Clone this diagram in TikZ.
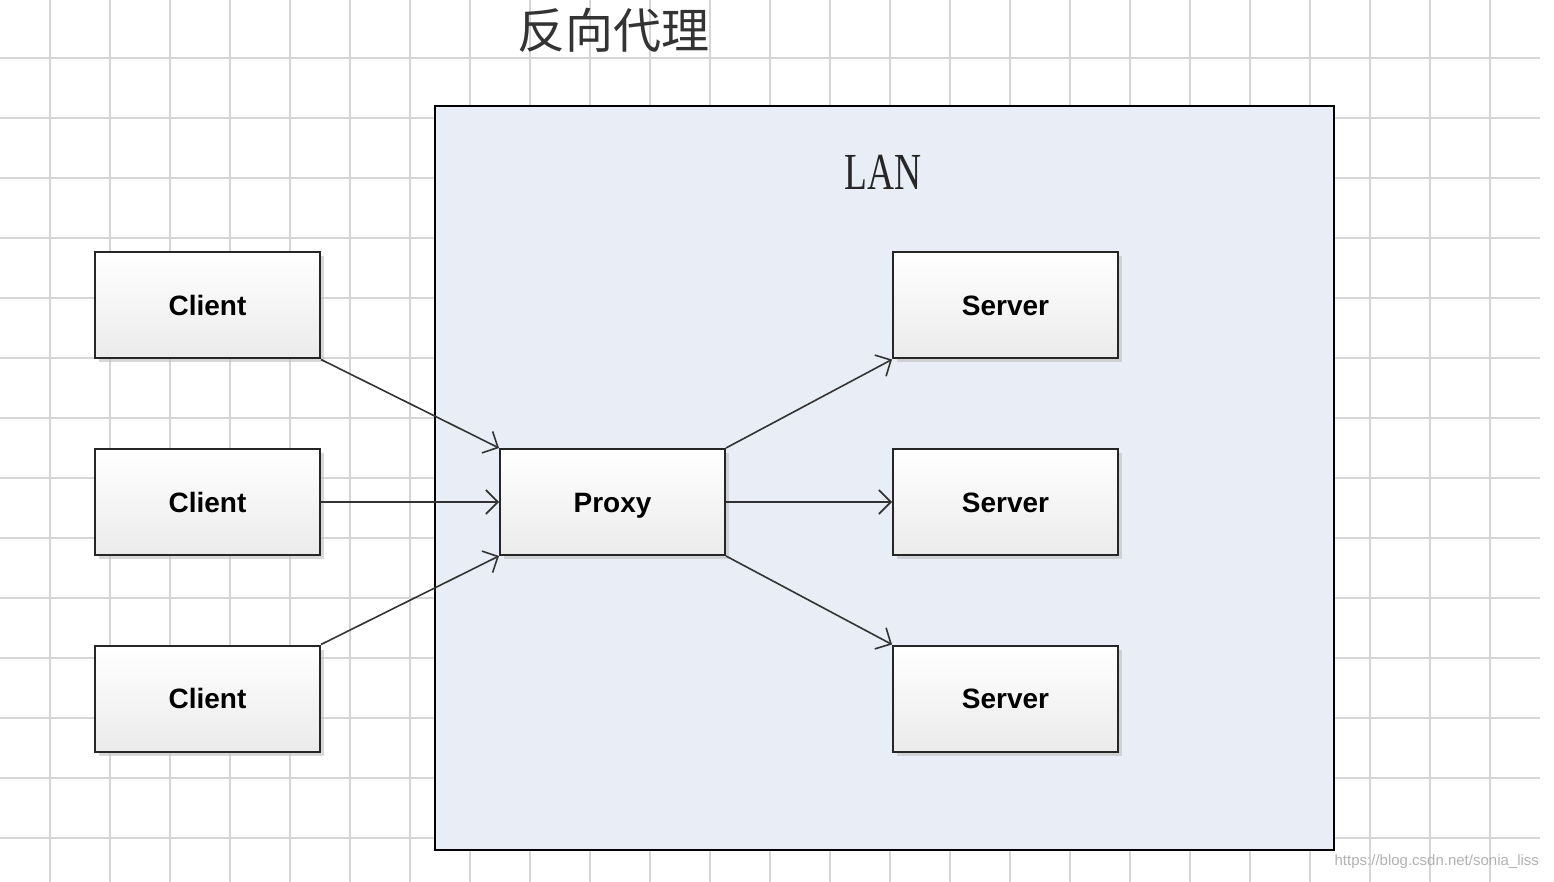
\documentclass[tikz,border=0pt]{standalone}
\usepackage{fontspec}
\setmainfont{Liberation Serif}
\setsansfont{Liberation Sans}
\newfontfamily\cjk{Noto Sans CJK SC}
\usetikzlibrary{arrows.meta,shadows}
\definecolor{lanfill}{HTML}{E9EDF5}
\definecolor{gridcol}{HTML}{D6D6D6}
\tikzset{
  gridline/.style={draw=gridcol, line width=0.9pt},
  boxnode/.style={draw=black!85, line width=1pt, minimum width=112.5pt, minimum height=53pt,
    top color=white, bottom color=black!8, inner sep=0pt, text height=10pt, text depth=0pt,
    font=\sffamily\bfseries\fontsize{14}{16}\selectfont,
    drop shadow={shadow xshift=2pt, shadow yshift=-2pt, fill=black!25, opacity=0.6}},
  conn/.style={draw=black!80, line width=0.8pt, -{Straight Barb[length=6pt,width=12pt,line width=0.8pt]}},
}
\begin{document}
\begin{tikzpicture}[x=0.5pt, y=-0.5pt]
\useasboundingbox (0,0) rectangle (1554,882);
\fill[white] (0,0) rectangle (1554,882);
% grid
\foreach \gx in {50,110,...,1490} \draw[gridline] (\gx,0) -- (\gx,882);
\foreach \gy in {58,118,...,838} \draw[gridline] (0,\gy) -- (1540,\gy);
% title
\node[font=\cjk\fontsize{24}{26}\selectfont, text=black!80] (title) at (613,30) {反向代理};
% LAN box
\node[draw=black, line width=1pt, fill=lanfill, minimum width=449.5pt, minimum height=372pt, inner sep=0pt] (lan) at (884.5,478) {};
\node[font=\rmfamily\fontsize{26}{28}\selectfont, text=black!85] (lanlabel) at (883,172) {\scalebox{0.72}[1]{LAN}};
% clients
\node[boxnode] (c1) at (207.5,305.5) {Client};
\node[boxnode] (c2) at (207.5,502) {Client};
\node[boxnode] (c3) at (207.5,698.5) {Client};
% proxy
\node[boxnode] (proxy) at (612.5,502) {Proxy};
% servers
\node[boxnode] (s1) at (1005.5,305.5) {Server};
\node[boxnode] (s2) at (1005.5,502) {Server};
\node[boxnode] (s3) at (1005.5,698.5) {Server};
% connectors
\draw[conn] (c1.south east) -- (proxy.north west);
\draw[conn] (c2.east) -- (proxy.west);
\draw[conn] (c3.north east) -- (proxy.south west);
\draw[conn] (proxy.north east) -- (s1.south west);
\draw[conn] (proxy.east) -- (s2.west);
\draw[conn] (proxy.south east) -- (s3.north west);
% watermark
\node[font=\sffamily\fontsize{7.5}{9}\selectfont, text=black!30, anchor=east] (wm) at (1546,862) {https://blog.csdn.net/sonia\_liss};
\end{tikzpicture}
\end{document}
